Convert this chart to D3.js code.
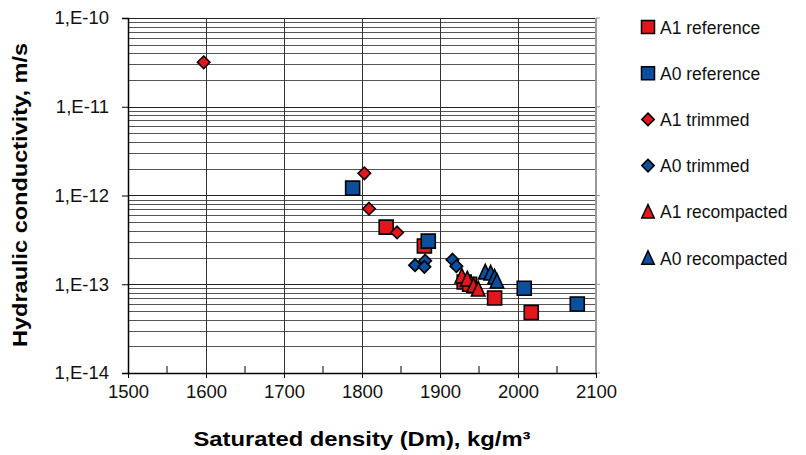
<!DOCTYPE html>
<html>
<head>
<meta charset="utf-8">
<script src="https://cdn.jsdelivr.net/npm/d3@7"></script>
<style>
  body { margin: 0; background: #fff; }
  text { font-family: "Liberation Sans", Arial, sans-serif; }
</style>
</head>
<body>
<svg id="chart"></svg>
<script>
// Series values (x = saturated density kg/m3, y = hydraulic conductivity m/s)
const a1RefX = [1831, 1880, 1931, 1938, 1970, 2017];
const a1RefY = [4.4e-13, 2.7e-13, 1.06e-13, 1.0e-13, 7.0e-14, 4.8e-14];
const a0RefX = [1788, 1885, 2008, 2076];
const a0RefY = [1.21e-12, 3.06e-13, 9.0e-14, 6.0e-14];
const a1TrimX = [1597, 1803, 1809, 1845];
const a1TrimY = [3.17e-11, 1.78e-12, 7.1e-13, 3.83e-13];
const a0TrimX = [1868, 1881, 1880, 1916, 1921];
const a0TrimY = [1.64e-13, 1.84e-13, 1.57e-13, 1.89e-13, 1.60e-13];
const a1RecX = [1928, 1935, 1943, 1949];
const a1RecY = [1.23e-13, 1.14e-13, 9.6e-14, 8.8e-14];
const a0RecX = [1958, 1965, 1970, 1973];
const a0RecY = [1.37e-13, 1.33e-13, 1.20e-13, 1.08e-13];

const xTicks = [1500, 1600, 1700, 1800, 1900, 2000, 2100];
const yTicks = [1e-14, 1e-13, 1e-12, 1e-11, 1e-10];
const yTickLabels = ["1,E-14", "1,E-13", "1,E-12", "1,E-11", "1,E-10"];

const RED = "#e5161b";
const BLUE = "#0b4f9e";

const series = [
  { label: "A1 reference", xs: a1RefX, ys: a1RefY, shape: "square", color: RED },
  { label: "A0 reference", xs: a0RefX, ys: a0RefY, shape: "square", color: BLUE },
  { label: "A1 trimmed", xs: a1TrimX, ys: a1TrimY, shape: "diamond", color: RED },
  { label: "A0 trimmed", xs: a0TrimX, ys: a0TrimY, shape: "diamond", color: BLUE },
  { label: "A1 recompacted", xs: a1RecX, ys: a1RecY, shape: "triangle", color: RED },
  { label: "A0 recompacted", xs: a0RecX, ys: a0RecY, shape: "triangle", color: BLUE }
];

const W = 806, H = 455;
const margin = {top: 18, right: 210, bottom: 82, left: 128};
const width = W - margin.left - margin.right;
const height = H - margin.top - margin.bottom;

const svg = d3.select("#chart").attr("width", W).attr("height", H);
const g = svg.append("g").attr("transform", `translate(${margin.left},${margin.top})`);

const x = d3.scaleLinear().domain([1500, 2100]).range([0, width]);
const y = d3.scaleLog().domain([1e-14, 1e-10]).range([height, 0]);

// Horizontal gridlines: minor (2..9) and major (decades)
const minorY = [];
for (let e = -14; e < -10; e++) {
  for (let m = 2; m <= 9; m++) minorY.push(m * Math.pow(10, e));
}
g.selectAll(".hminor").data(minorY).enter().append("line")
  .attr("x1", 0).attr("x2", width)
  .attr("y1", d => Math.round(y(d)) + 0.5).attr("y2", d => Math.round(y(d)) + 0.5)
  .attr("stroke", "#555").attr("stroke-width", 1);
g.selectAll(".hmajor").data(yTicks.slice(1)).enter().append("line")
  .attr("x1", 0).attr("x2", width)
  .attr("y1", d => Math.round(y(d)) + 0.5).attr("y2", d => Math.round(y(d)) + 0.5)
  .attr("stroke", "#222").attr("stroke-width", 1.2);

// Vertical gridlines
g.selectAll(".vgrid").data(xTicks.slice(1, -1)).enter().append("line")
  .attr("x1", d => Math.round(x(d)) + 0.5).attr("x2", d => Math.round(x(d)) + 0.5)
  .attr("y1", 0).attr("y2", height)
  .attr("stroke", "#333").attr("stroke-width", 1);

// Right border (gray)
g.append("line").attr("x1", width).attr("x2", width).attr("y1", 0).attr("y2", height)
  .attr("stroke", "#999").attr("stroke-width", 2);

// Y axis
const yAxis = d3.axisLeft(y).tickValues(yTicks)
  .tickFormat((d, i) => yTickLabels[i]).tickSize(6).tickPadding(13);
const ya = g.append("g").call(yAxis);
ya.select(".domain").attr("stroke", "#000").attr("stroke-width", 1.5);
ya.selectAll(".tick line").attr("stroke", "#000");
ya.selectAll("text").attr("font-size", 18.5).attr("fill", "#111");

// right small ticks
g.selectAll(".rtick").data(yTicks).enter().append("line")
  .attr("x1", width).attr("x2", width + 4)
  .attr("y1", d => y(d)).attr("y2", d => y(d)).attr("stroke", "#999");

// X axis
const xMinor = d3.range(1550, 2100, 100);
g.selectAll(".xminor").data(xMinor).enter().append("line")
  .attr("x1", d => x(d)).attr("x2", d => x(d))
  .attr("y1", height - 7).attr("y2", height)
  .attr("stroke", "#000");
const xAxis = d3.axisBottom(x).tickValues(xTicks).tickFormat(d3.format("d"))
  .tickSizeInner(5).tickSizeOuter(0).tickPadding(7);
const xa = g.append("g").attr("transform", `translate(0,${height})`).call(xAxis);
xa.select(".domain").attr("stroke", "#000").attr("stroke-width", 1.5);
xa.selectAll(".tick line").attr("stroke", "#000");
xa.selectAll("text").attr("font-size", 18.5).attr("fill", "#111");

// Symbol drawing
function symbolPath(shape, s) {
  const h = s / 2;
  if (shape === "square") return `M${-h},${-h}H${h}V${h}H${-h}Z`;
  if (shape === "diamond") return `M0,${-h}L${h},0L0,${h}L${-h},0Z`;
  return `M0,${-h - 1}L${h},${h}L${-h},${h}Z`;
}
const markerSize = {square: 14, diamond: 12.5, triangle: 13.5};

series.forEach(sr => {
  const pts = sr.xs.map((v, i) => ({x: v, y: sr.ys[i]}));
  g.selectAll(null).data(pts).enter().append("path")
    .attr("transform", d => `translate(${x(d.x)},${y(d.y)})`)
    .attr("d", symbolPath(sr.shape, markerSize[sr.shape]))
    .attr("fill", sr.color)
    .attr("stroke", "#000")
    .attr("stroke-width", 1.6);
});

// Axis titles
svg.append("text")
  .attr("x", 362).attr("y", 446)
  .attr("text-anchor", "middle").attr("font-size", 21).attr("font-weight", "bold")
  .attr("textLength", 337).attr("lengthAdjust", "spacingAndGlyphs")
  .text("Saturated density (Dm), kg/m³");
svg.append("text")
  .attr("transform", "translate(27,195) rotate(-90)")
  .attr("text-anchor", "middle").attr("font-size", 21).attr("font-weight", "bold")
  .attr("textLength", 304).attr("lengthAdjust", "spacingAndGlyphs")
  .text("Hydraulic conductivity, m/s");

// Legend
const legend = svg.append("g").attr("transform", "translate(648,27)");
series.forEach((sr, i) => {
  const item = legend.append("g").attr("transform", `translate(0,${i * 46.2})`);
  item.append("path")
    .attr("d", symbolPath(sr.shape, sr.shape === "square" ? 13 : 12.5))
    .attr("fill", sr.color).attr("stroke", "#000").attr("stroke-width", 1.5);
  item.append("text").attr("x", 12).attr("y", 6.5)
    .attr("font-size", 17.5).attr("fill", "#111").text(sr.label);
});
</script>
</body>
</html>
